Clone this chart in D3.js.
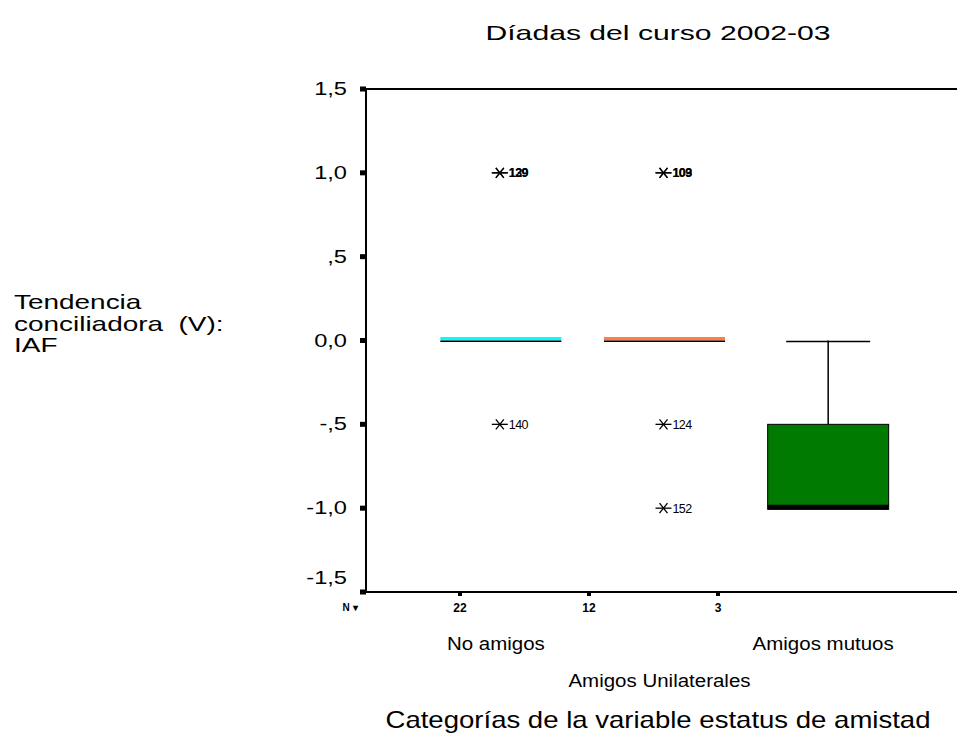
<!DOCTYPE html>
<html>
<head>
<meta charset="utf-8">
<script src="https://cdn.jsdelivr.net/npm/d3@7/dist/d3.min.js"></script>
<style>
  html, body { margin: 0; padding: 0; background: #fff; }
  svg { display: block; }
  text { font-family: "Liberation Sans", Arial, sans-serif; fill: #000; white-space: pre; }
</style>
</head>
<body>
<svg id="chart" width="957" height="735"></svg>
<script>
// ---- data ----
const categories = ["No amigos", "Amigos Unilaterales", "Amigos mutuos"];
const nValues = [22, 12, 3];
const labelRow = [0, 1, 0];
const whiskerLow = [0, 0, -1];
const q1 = [0, 0, -1];
const median = [0, 0, -1];
const q3 = [0, 0, -0.5];
const whiskerHigh = [0, 0, 0];
const boxColors = ["#00ffff", "#ff7f40", "#007a00"];
const outlierCat = ["No amigos", "No amigos", "No amigos", "Amigos Unilaterales", "Amigos Unilaterales", "Amigos Unilaterales", "Amigos Unilaterales"];
const outlierVal = [1.0, 1.0, -0.5, 1.0, 1.0, -0.5, -1.0];
const outlierLabel = ["139", "129", "140", "103", "109", "124", "152"];
const yTicks = [1.5, 1.0, 0.5, 0.0, -0.5, -1.0, -1.5];
const yTickLabels = ["1,5", "1,0", ",5", "0,0", "-,5", "-1,0", "-1,5"];

const title = "Díadas del curso 2002-03";
const yTitle = ["Tendencia", "conciliadora  (V):", "IAF"];
const xTitle = "Categorías de la variable estatus de amistad";

// ---- layout ----
const svg = d3.select("#chart");
const plotLeft = 366, plotTop = 89, plotBottom = 592, plotRight = 957;

const y = d3.scaleLinear().domain([-1.5, 1.5]).range([plotBottom, plotTop]);
const x = d3.scaleBand().domain(categories).range([419, 910]).padding(0);
const xN = d3.scalePoint().domain(categories).range([460, 718]);
const boxW = 121;

// widen text horizontally (the reference font is wide)
function stretch(sel, ratio) {
  sel.each(function () {
    const w = this.getComputedTextLength();
    d3.select(this).attr("textLength", w * ratio).attr("lengthAdjust", "spacingAndGlyphs");
  });
}

// title
svg.append("text").attr("x", 658).attr("y", 40).attr("text-anchor", "middle")
  .attr("font-size", 21).attr("textLength", 345).attr("lengthAdjust", "spacingAndGlyphs").text(title);

// y title
const ytl = svg.append("g").selectAll("text").data(yTitle).join("text")
  .attr("x", 14).attr("y", (d, i) => 309 + i * 21.5)
  .attr("font-size", 21).text(d => d);
stretch(ytl, 1.33);

// axes lines
svg.append("line").attr("x1", plotLeft).attr("x2", plotRight).attr("y1", plotTop).attr("y2", plotTop)
  .attr("stroke", "#000").attr("stroke-width", 2);
svg.append("line").attr("x1", plotLeft).attr("x2", plotLeft).attr("y1", plotTop - 1).attr("y2", plotBottom + 1)
  .attr("stroke", "#000").attr("stroke-width", 2);
svg.append("line").attr("x1", plotLeft - 6).attr("x2", plotRight).attr("y1", plotBottom).attr("y2", plotBottom)
  .attr("stroke", "#000").attr("stroke-width", 2);

// y ticks
const yt = svg.append("g");
yt.selectAll("rect").data(yTicks).join("rect")
  .attr("x", plotLeft - 6).attr("y", d => y(d) - 2.5).attr("width", 6).attr("height", 5)
  .attr("fill", "#000");
const ytt = yt.selectAll("text").data(yTicks).join("text")
  .attr("x", 347).attr("y", (d, i) => y(d) + 6 - (d === -1.5 ? 14 : 0))
  .attr("text-anchor", "end").attr("font-size", 17.5)
  .text((d, i) => yTickLabels[i]);
stretch(ytt, 1.35);

// N row
svg.append("text").attr("x", 350).attr("y", 611).attr("text-anchor", "middle")
  .attr("font-size", 10).attr("font-weight", "bold").text("N ▾");
const nr = svg.append("g");
nr.selectAll("rect").data(categories).join("rect")
  .attr("x", d => xN(d) - 2).attr("y", plotBottom).attr("width", 4).attr("height", 4).attr("fill", "#000");
nr.selectAll("text").data(categories).join("text")
  .attr("x", d => xN(d)).attr("y", 612).attr("text-anchor", "middle")
  .attr("font-size", 12).attr("font-weight", "bold")
  .text((d, i) => nValues[i]);

// category labels
const cl = svg.append("g").selectAll("text").data(categories).join("text")
  .attr("x", d => x(d) + x.bandwidth() / 2 - 5)
  .attr("y", (d, i) => 650 + labelRow[i] * 37)
  .attr("text-anchor", "middle").attr("font-size", 17.5)
  .text(d => d);
stretch(cl, 1.17);

// x title
svg.append("text").attr("x", 658).attr("y", 728).attr("text-anchor", "middle")
  .attr("font-size", 24).attr("textLength", 545).attr("lengthAdjust", "spacingAndGlyphs").text(xTitle);

// boxes
const boxes = svg.append("g");
categories.forEach((c, i) => {
  const cx = x(c) + x.bandwidth() / 2;
  const g = boxes.append("g");
  if (whiskerHigh[i] > q3[i]) {
    g.append("line").attr("x1", cx).attr("x2", cx).attr("y1", y(q3[i])).attr("y2", y(whiskerHigh[i]))
      .attr("stroke", "#000").attr("stroke-width", 1.5);
    g.append("line").attr("x1", cx - 42).attr("x2", cx + 42).attr("y1", y(whiskerHigh[i]) + 1).attr("y2", y(whiskerHigh[i]) + 1)
      .attr("stroke", "#000").attr("stroke-width", 1.5);
  }
  if (whiskerLow[i] < q1[i]) {
    g.append("line").attr("x1", cx).attr("x2", cx).attr("y1", y(q1[i])).attr("y2", y(whiskerLow[i]))
      .attr("stroke", "#000").attr("stroke-width", 1.5);
    g.append("line").attr("x1", cx - 42).attr("x2", cx + 42).attr("y1", y(whiskerLow[i])).attr("y2", y(whiskerLow[i]))
      .attr("stroke", "#000").attr("stroke-width", 1.5);
  }
  const degenerate = q3[i] === q1[i];
  if (degenerate) {
    g.append("rect").attr("x", cx - boxW / 2).attr("y", y(q3[i]) - 3.5)
      .attr("width", boxW).attr("height", 3.5).attr("fill", boxColors[i]);
    g.append("line").attr("x1", cx - boxW / 2).attr("x2", cx + boxW / 2)
      .attr("y1", y(median[i]) + 0.8).attr("y2", y(median[i]) + 0.8)
      .attr("stroke", "#000").attr("stroke-width", 1.6);
  } else {
    g.append("rect").attr("x", cx - boxW / 2).attr("y", y(q3[i]))
      .attr("width", boxW).attr("height", y(q1[i]) - y(q3[i]) + 1)
      .attr("fill", boxColors[i]).attr("stroke", "#000").attr("stroke-width", 1);
    g.append("line").attr("x1", cx - boxW / 2).attr("x2", cx + boxW / 2)
      .attr("y1", y(median[i]) - 1).attr("y2", y(median[i]) - 1)
      .attr("stroke", "#000").attr("stroke-width", 5);
  }
});

// outliers
const outG = svg.append("g");
outlierVal.forEach((v, k) => {
  const cx = x(outlierCat[k]) + x.bandwidth() / 2 - 1;
  const cy = y(v);
  const g = outG.append("g").attr("transform", `translate(${cx},${cy})`);
  g.append("line").attr("x1", -8).attr("x2", 8).attr("y1", 0).attr("y2", 0).attr("stroke", "#000").attr("stroke-width", 1.3);
  g.append("line").attr("x1", -4).attr("x2", 4).attr("y1", -5).attr("y2", 5).attr("stroke", "#000").attr("stroke-width", 1.3);
  g.append("line").attr("x1", -4).attr("x2", 4).attr("y1", 5).attr("y2", -5).attr("stroke", "#000").attr("stroke-width", 1.3);
  g.append("text").attr("x", 9).attr("y", 4.5).attr("font-size", 12.5)
    .attr("font-weight", v === 1.0 ? "bold" : "normal").attr("letter-spacing", -0.6)
    .text(outlierLabel[k]);
});
</script>
</body>
</html>
